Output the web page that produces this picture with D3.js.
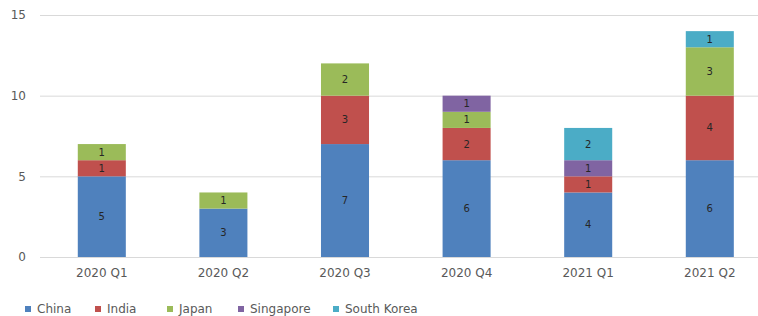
<!DOCTYPE html>
<html><head><meta charset="utf-8">
<script src="https://cdn.jsdelivr.net/npm/d3@7"></script>
<style>body{margin:0;background:#fff}svg{display:block}</style>
</head><body>
<script>
const categories = ["2020 Q1","2020 Q2","2020 Q3","2020 Q4","2021 Q1","2021 Q2"];
const seriesNames = ["China","India","Japan","Singapore","South Korea"];
const china = [5,3,7,6,4,6];
const india = [1,0,3,2,1,4];
const japan = [1,1,2,1,0,3];
const singapore = [0,0,0,1,1,0];
const southKorea = [0,0,0,0,2,1];
const yTicks = [0,5,10,15];
const colors = ["#4F81BD","#C0504D","#9BBB59","#8064A2","#4BACC6"];

const W = 758, H = 316;
const svg = d3.select("body").append("svg").attr("width", W).attr("height", H);
const font = "'DejaVu Sans', sans-serif";

const values = [china, india, japan, singapore, southKorea];
const rows = categories.map((c, i) => {
  const r = {cat: c};
  seriesNames.forEach((s, j) => r[s] = values[j][i]);
  return r;
});
const stacked = d3.stack().keys(seriesNames)(rows);

const x = d3.scaleBand().domain(categories).range([41, 770.6]).paddingInner(0.605).paddingOuter(0.3025);
const y = d3.scaleLinear().domain([0, 15]).range([257, 15]);

// gridlines
svg.append("g").selectAll("line").data(yTicks).join("line")
  .attr("x1", 40).attr("x2", W).attr("y1", d => y(d) + 0.5).attr("y2", d => y(d) + 0.5)
  .attr("stroke", "#d9d9d9").attr("stroke-width", 1);

// y labels
svg.append("g").selectAll("text").data(yTicks).join("text")
  .attr("x", 26).attr("y", d => y(d)).attr("dy", "0.35em").attr("text-anchor", "end")
  .attr("font-family", font).attr("font-size", 12).attr("fill", "#595959").text(d => d);

// bars
const g = svg.append("g");
stacked.forEach((layer, j) => {
  const lg = g.append("g").attr("fill", colors[j]);
  lg.selectAll("rect").data(layer.filter(d => d[1] - d[0] > 0)).join("rect")
    .attr("x", d => x(d.data.cat)).attr("width", x.bandwidth())
    .attr("y", d => y(d[1])).attr("height", d => y(d[0]) - y(d[1]));
  g.append("g").selectAll("text").data(layer.filter(d => d[1] - d[0] > 0)).join("text")
    .attr("x", d => x(d.data.cat) + x.bandwidth() / 2)
    .attr("y", d => (y(d[0]) + y(d[1])) / 2).attr("dy", "0.35em")
    .attr("text-anchor", "middle").attr("font-family", font).attr("font-size", 10)
    .attr("fill", "#262626").text(d => d[1] - d[0]);
});

// x labels
svg.append("g").selectAll("text").data(categories).join("text")
  .attr("x", d => x(d) + x.bandwidth() / 2).attr("y", 273).attr("dy", "0.35em")
  .attr("text-anchor", "middle").attr("font-family", font).attr("font-size", 12)
  .attr("fill", "#595959").text(d => d);

// legend
const legX = [25, 95, 167, 238, 333];
const leg = svg.append("g");
seriesNames.forEach((s, j) => {
  leg.append("rect").attr("x", legX[j]).attr("y", 306).attr("width", 6).attr("height", 6).attr("fill", colors[j]);
  leg.append("text").attr("x", legX[j] + 12).attr("y", 309).attr("dy", "0.35em")
    .attr("font-family", font).attr("font-size", 12).attr("fill", "#595959").text(s);
});
</script>
</body></html>
